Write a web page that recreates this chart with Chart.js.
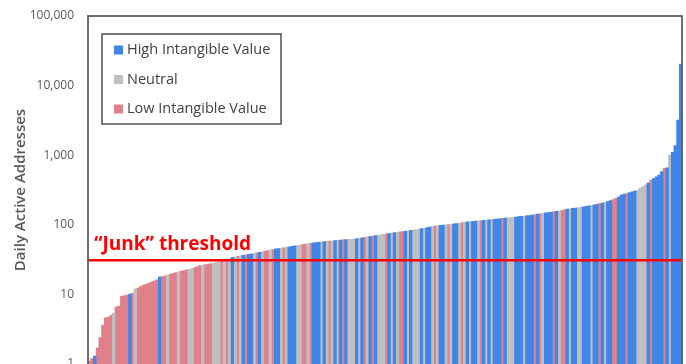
<!DOCTYPE html>
<html><head><meta charset="utf-8">
<script src="https://cdn.jsdelivr.net/npm/chart.js@4/dist/chart.umd.min.js"></script>
<style>html,body{margin:0;padding:0;background:#fff;overflow:hidden}</style>
</head><body>
<canvas id="c" width="686" height="364"></canvas>
<script>
const seriesNames = ['High Intangible Value', 'Neutral', 'Low Intangible Value'];
const seriesCodes = ['H', 'N', 'L'];
const seriesColors = ['#3f86e8', '#bfbfbf', '#e0808a'];
const yTicks = [1, 10, 100, 1000, 10000, 100000];
const threshold = 31;
const thresholdLabel = '\u201CJunk\u201D threshold';
const yTitle = 'Daily Active Addresses';

// Daily active addresses per asset, sorted ascending
const values = [
  1.1, 1.2, 1.3, 1.7, 2.4, 3.6, 4.6, 4.7, 5.0, 5.4,
  6.6, 6.8, 9.4, 9.6, 9.8, 10.1, 10.4, 12.0, 12.3, 13.0,
  13.6, 14.0, 14.5, 15.0, 15.6, 16.2, 17.8, 18.0, 18.4, 19.0,
  19.5, 20.0, 20.5, 21.0, 21.5, 22.0, 22.6, 23.0, 23.5, 24.2,
  25.0, 26.0, 26.4, 26.8, 27.2, 27.6, 28.2, 28.8, 29.5, 30.2,
  31.0, 31.8, 32.6, 34.0, 34.5, 35.2, 35.8, 36.4, 37.0, 37.6,
  38.2, 38.8, 39.5, 40.2, 41.0, 41.8, 42.5, 43.2, 44.0, 45.0,
  45.5, 46.0, 46.8, 47.5, 48.2, 49.0, 49.8, 50.5, 51.2, 52.0,
  52.8, 53.5, 54.2, 55.0, 55.6, 56.2, 56.8, 57.4, 57.9, 58.4,
  58.9, 59.4, 59.9, 60.4, 60.9, 61.4, 61.8, 62.2, 62.6, 63.0,
  64, 65, 66, 67, 68, 69, 70, 71, 72, 73,
  74, 75, 76, 77, 78, 79, 80, 81, 82, 83,
  84, 85, 86.5, 88, 89.5, 91, 92.5, 94, 96, 97,
  98, 99, 100, 101, 102, 103, 104, 105, 107, 109,
  110, 111, 112, 113, 114, 115, 116, 117, 118, 119,
  120, 121, 122, 124, 125, 126, 127, 128, 129, 131,
  132, 133, 135, 136, 138, 140, 142, 144, 146, 148,
  150, 152, 154, 156, 158, 160, 164, 168, 170, 172,
  174, 176, 178, 181, 184, 187, 190, 193, 197, 201,
  205, 210, 216, 222, 230, 240, 250, 268, 275, 282,
  290, 298, 306, 314, 338, 355, 375, 400, 440, 460,
  490, 520, 580, 650, 660, 1000, 1100, 1370, 3200, 20400
];

// Category of each bar: H = high intangible value, N = neutral, L = low intangible value
const groups = [
  'L','L','H','L','L','L','L','L','L','N',
  'L','L','L','L','L','H','L','N','L','L',
  'L','L','L','L','L','L','H','L','L','N',
  'L','L','L','N','L','L','L','N','N','L',
  'L','L','N','L','L','L','N','N','N','L',
  'N','L','N','H','N','L','N','H','L','H',
  'H','N','L','H','N','L','L','N','L','H',
  'H','N','L','N','H','H','H','N','N','L',
  'L','N','L','H','H','H','N','H','N','L',
  'N','H','N','H','L','H','N','N','N','H',
  'N','H','L','N','H','L','H','N','N','N',
  'L','H','N','H','N','L','L','H','N','H',
  'N','N','N','H','N','H','H','N','L','N',
  'H','H','N','L','N','H','H','N','L','N',
  'H','N','H','H','N','L','H','N','H','N',
  'H','H','H','L','H','N','N','N','H','H',
  'H','N','H','H','H','L','H','L','N','H',
  'H','H','L','H','N','L','L','H','N','H',
  'H','N','N','H','H','H','N','H','H','L',
  'H','N','H','H','L','L','H','H','H','L',
  'H','H','H','N','N','N','N','H','L','H',
  'H','H','H','L','H','N','H','H','H','H'
];

const categories = values.map((_, i) => String(i + 1));

const datasets = seriesCodes.map((code, k) => ({
  label: seriesNames[k],
  data: values.map((v, i) => (groups[i] === code ? v : null)),
  backgroundColor: seriesColors[k],
  borderWidth: 0,
  grouped: false,
  barPercentage: 1.0,
  categoryPercentage: 1.0
}));

const overlayPlugin = {
  id: 'overlay',
  afterDatasetsDraw(chart) {
    const { ctx, chartArea: a, scales: { y } } = chart;
    ctx.save();
    // threshold line
    const ty = y.getPixelForValue(threshold);
    ctx.strokeStyle = '#ff0000';
    ctx.lineWidth = 2.5;
    ctx.beginPath();
    ctx.moveTo(a.left, ty);
    ctx.lineTo(a.right, ty);
    ctx.stroke();
    ctx.fillStyle = '#ff0000';
    ctx.font = 'bold 19px "Open Sans"';
    ctx.textAlign = 'left';
    ctx.textBaseline = 'alphabetic';
    ctx.fillText(thresholdLabel, a.left + 6, ty - 10);
    // plot frame
    ctx.strokeStyle = '#5f5f5f';
    ctx.lineWidth = 1.8;
    ctx.strokeRect(a.left, a.top, a.right - a.left, a.bottom - a.top + 2);
    // legend box
    const lx = a.left + 14, ly = a.top + 18, lw = 179, lh = 90;
    ctx.fillStyle = '#ffffff';
    ctx.fillRect(lx, ly, lw, lh);
    ctx.strokeStyle = '#333333';
    ctx.lineWidth = 1.3;
    ctx.strokeRect(lx, ly, lw, lh);
    ctx.font = '14.5px "Open Sans"';
    ctx.textBaseline = 'middle';
    seriesNames.forEach((name, k) => {
      const cy = ly + 16 + k * 29.5;
      ctx.fillStyle = seriesColors[k];
      ctx.fillRect(lx + 12, cy - 4.5, 9, 9);
      ctx.fillStyle = '#404040';
      ctx.fillText(name, lx + 25, cy);
    });
    ctx.restore();
  }
};

new Chart(document.getElementById('c'), {
  type: 'bar',
  data: { labels: categories, datasets },
  options: {
    responsive: false,
    animation: false,
    devicePixelRatio: 1,
    layout: { padding: { top: 16, right: 4, bottom: 0, left: 0 } },
    plugins: { legend: { display: false }, tooltip: { enabled: false } },
    scales: {
      x: { display: false, stacked: false },
      y: {
        type: 'logarithmic',
        min: 1,
        max: 100000,
        grid: { display: false, drawTicks: false },
        border: { display: false },
        afterBuildTicks(s) { s.ticks = yTicks.map(v => ({ value: v, major: true })); },
        afterFit(s) { s.width = 88; s.paddingTop = 0; s.paddingBottom = 0; },
        ticks: {
          padding: 14,
          color: '#595959',
          font: { family: '"Open Sans"', size: 12 },
          callback: (v) => Number(v).toLocaleString('en-US')
        },
        title: {
          display: true,
          text: yTitle,
          color: '#595959',
          font: { family: '"Open Sans"', size: 15, weight: '600' },
          padding: { top: 12, bottom: 0 }
        }
      }
    }
  },
  plugins: [overlayPlugin]
});
</script>
</body></html>
